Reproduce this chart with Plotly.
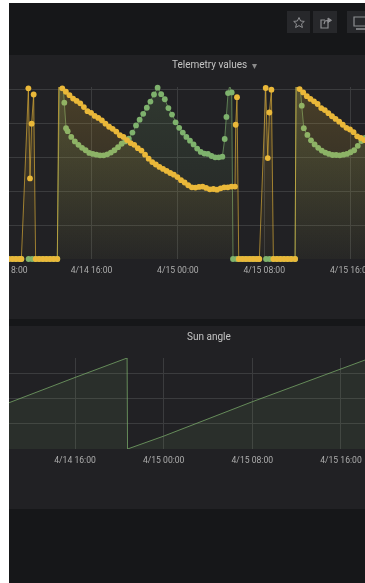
import pandas as pd
import plotly.graph_objects as go

W, H = 365, 583
BASE = pd.Timestamp("2020-04-14 00:00")

# ---------- data: hours since 4/14 00:00 ----------
yellow_pre_hours = [7.67, 8.0, 8.33, 8.67, 9.0, 9.33, 9.5, 10.15, 10.30, 10.45, 10.64, 10.82,
                    11.15, 11.49, 11.82, 12.15, 12.49, 12.83]
yellow_pre_vals = [0, 0, 0, 0, 0, 0, 0, 5.02, 2.37, 3.98, 4.84, 0, 0, 0, 0, 0, 0, 0]

yellow_day1_start = 12.96
yellow_day1_vals = [5.07, 5.02, 4.92, 4.82, 4.72, 4.65, 4.58, 4.47, 4.35, 4.30, 4.21, 4.15, 4.08,
                    3.98, 3.89, 3.83, 3.75, 3.64, 3.59, 3.50, 3.41, 3.36, 3.26, 3.19, 3.07, 2.95,
                    2.85, 2.78, 2.71, 2.65, 2.59, 2.53, 2.48, 2.41, 2.32, 2.25, 2.17, 2.11, 2.10,
                    2.12, 2.13, 2.09, 2.05, 2.06, 2.04, 2.08, 2.11, 2.11, 2.13, 2.13]

yellow_mid_hours = [29.36, 29.48, 29.64, 29.97, 30.3, 30.63, 30.96, 31.29, 31.55, 32.14, 32.33,
                    32.48, 32.67, 32.85, 33.18, 33.51, 33.84, 34.17, 34.5, 34.86]
yellow_mid_vals = [3.95, 4.76, 0, 0, 0, 0, 0, 0, 0, 5.03, 2.97, 4.31, 4.98, 0, 0, 0, 0, 0, 0, 0]

yellow_day2_start = 34.95
yellow_day2_vals = [5.08, 5.0, 4.9, 4.79, 4.71, 4.64, 4.56, 4.44, 4.38, 4.29, 4.2, 4.12, 4.04,
                    3.95, 3.86, 3.81, 3.73, 3.61, 3.56, 3.5, 3.41]

green_pre_hours = [7.67, 8.0, 8.33, 8.67, 9.0, 9.33, 9.5, 9.8, 10.17, 10.5, 10.82, 11.15, 11.49,
                   11.82, 12.15, 12.49, 12.83, 13.02, 13.2, 13.36, 13.48, 13.64]
green_pre_vals = [0, 0, 0, 0, 0, 0, 0, None, 0, 0, 0, 0, 0, 0, 0, 0, 0, 5.12, 5.12, 5.12, 4.6, 3.85]

green_day1_start = 13.79
green_day1_vals = [3.76, 3.59, 3.46, 3.36, 3.27, 3.20, 3.12, 3.09, 3.07, 3.05, 3.05, 3.08, 3.13,
                   3.20, 3.29, 3.39, 3.46, 3.54, 3.72, 3.93, 4.10, 4.27, 4.45, 4.63, 4.84, 5.04,
                   4.85, 4.70, 4.44, 4.25, 4.02, 3.86, 3.72, 3.59, 3.48, 3.37, 3.25, 3.15, 3.10,
                   3.09, 3.03, 2.99, 2.99, 3.01]

green_mid_hours = [28.34, 28.50, 28.65, 28.81, 28.99, 29.11, 29.44, 29.77, 30.1, 30.43, 30.76,
                   31.09, 31.5, 31.8, 32.17, 32.5, 32.85, 33.18, 33.51, 33.84, 34.17, 34.5, 34.86,
                   34.95, 35.14, 35.32, 35.48]
green_mid_vals = [3.53, 4.18, 4.88, 5.10, 4.90, 0, 0, 0, 0, 0, 0, 0, 0, None, 0, 0, 0, 0, 0, 0, 0,
                  0, 0, 5.12, 5.12, 5.12, 4.51]

green_day2_start = 35.67
green_day2_vals = [3.85, 3.65, 3.49, 3.37, 3.27, 3.19, 3.13, 3.09, 3.06, 3.06, 3.05, 3.07, 3.09,
                   3.14, 3.2, 3.33, 3.47, 3.56]

sun_hours = [9.23, 10.04, 16.0, 20.70, 20.74, 24.0, 32.0, 40.0, 42.17]
sun_vals = [1.70, 1.83, 2.83, 3.60, 0.0, 0.51, 1.87, 3.15, 3.52]

tick_hours = [8, 16, 24, 32, 40]
tick_labels = ["4/14 08:00", "4/14 16:00", "4/15 00:00", "4/15 08:00", "4/15 16:00"]
# the upper chart's outer labels run off the page, so the axis would drop them
tick_labels_upper = ["", "4/14 16:00", "4/15 00:00", "4/15 08:00", ""]
SAMPLE_STEP_H = 1 / 3  # telemetry arrives every 20 minutes


def ts(hours):
    return [BASE + pd.to_timedelta(h, unit="h") for h in hours]


def grid(start, vals):
    return [start + i * SAMPLE_STEP_H for i in range(len(vals))]


yellow_x = ts(yellow_pre_hours + grid(yellow_day1_start, yellow_day1_vals) + yellow_mid_hours
              + grid(yellow_day2_start, yellow_day2_vals))
yellow_y = yellow_pre_vals + yellow_day1_vals + yellow_mid_vals + yellow_day2_vals
green_x = ts(green_pre_hours + grid(green_day1_start, green_day1_vals) + green_mid_hours
             + grid(green_day2_start, green_day2_vals))
green_y = green_pre_vals + green_day1_vals + green_mid_vals + green_day2_vals

# ---------- style ----------
PAGE = "#161719"
PANEL = "#212124"
GRID = "#3b3c3e"
TICK = "#adadad"
TITLE = "#c4c4c4"
YEL = "234,184,57"
GRN = "126,178,109"
FONT = "Roboto"


def px(x):
    return x / W


def py(y):
    return 1 - y / H


fig = go.Figure()

fig.add_trace(go.Scatter(
    x=green_x, y=green_y, mode="lines+markers", xaxis="x", yaxis="y", cliponaxis=False,
    line=dict(color=f"rgba({GRN},0.62)", width=1),
    marker=dict(color=f"rgb({GRN})", size=5.8, line=dict(width=0)),
    fill="tozeroy",
    fillgradient=dict(type="vertical", start=0, stop=5,
                      colorscale=[[0, f"rgba({GRN},0.02)"], [1, f"rgba({GRN},0.16)"]]),
))
fig.add_trace(go.Scatter(
    x=yellow_x, y=yellow_y, mode="lines+markers", xaxis="x", yaxis="y", cliponaxis=False,
    line=dict(color=f"rgba({YEL},0.62)", width=1),
    marker=dict(color=f"rgb({YEL})", size=5.8, line=dict(width=0)),
    fill="tozeroy",
    fillgradient=dict(type="vertical", start=0, stop=5,
                      colorscale=[[0, f"rgba({YEL},0.02)"], [1, f"rgba({YEL},0.2)"]]),
))
fig.add_trace(go.Scatter(
    x=ts(sun_hours), y=sun_vals, mode="lines", xaxis="x2", yaxis="y2",
    line=dict(color=f"rgba({GRN},0.72)", width=1),
    fill="tozeroy", fillcolor=f"rgba({GRN},0.1)",
))


def rect(x0, y0, x1, y1, color, layer="below"):
    return dict(type="rect", xref="paper", yref="paper", x0=px(x0), x1=px(x1), y0=py(y1), y1=py(y0),
                fillcolor=color, line=dict(width=0), layer=layer)


def path(points, color, close=False, width=1.0, fill=None):
    d = "M " + " L ".join(f"{px(a):.5f},{py(b):.5f}" for a, b in points)
    if close:
        d += " Z"
    return dict(type="path", xref="paper", yref="paper", path=d, layer="above",
                line=dict(color=color, width=width), fillcolor=fill or "rgba(0,0,0,0)")


ICON = "#8e8f92"
BTN = "#27282b"
shapes = [
    rect(0, 0, W, H, PAGE),
    rect(9, 55, W, 319, PANEL),
    rect(9, 326, W, 509, PANEL),
    rect(287, 11, 310, 33, BTN),
    rect(313, 11, 337, 33, BTN),
    rect(347, 11, W, 33, BTN),
    # star icon
    path([(299, 17.5), (300.6, 21), (304.3, 21.4), (301.5, 23.9), (302.4, 27.5), (299, 25.6),
          (295.6, 27.5), (296.5, 23.9), (293.7, 21.4), (297.4, 21)], ICON, close=True),
    # share icon
    path([(328, 21), (328, 28), (321, 28), (321, 20), (325, 20)], ICON, width=1.2),
    path([(324, 24), (325, 21), (328.5, 20.3)], ICON, width=1.2),
    path([(328, 18), (331.5, 20.3), (328, 22.5)], ICON, close=True, fill=ICON),
    # monitor icon
    path([(354, 17), (W + 5, 17), (W + 5, 26), (354, 26)], ICON, close=True, width=1.2),
    path([(356, 29), (W, 29)], ICON, width=1.6),
    # page edge: the screenshot's white strip sits over the plots
    rect(0, 0, 9, H, "#ffffff", layer="above"),
    rect(0, 0, W, 3, "#ffffff", layer="above"),
]

tick_font = dict(family=FONT, size=8.6, color=TICK)

axis_common = dict(
    showgrid=True, gridcolor=GRID, gridwidth=1, zeroline=False, showline=False,
    ticks="outside", ticklen=3, tickcolor="rgba(0,0,0,0)",
    tickfont=tick_font,
    tickmode="array", tickvals=ts(tick_hours), tickangle=0,
)
yaxis_common = dict(showgrid=True, gridcolor=GRID, gridwidth=1, zeroline=False, showline=False,
                    showticklabels=False, ticks="", tickmode="array")

fig.update_layout(
    width=W, height=H, margin=dict(l=0, r=0, t=0, b=0),
    paper_bgcolor="#ffffff", plot_bgcolor="rgba(0,0,0,0)", showlegend=False,
    shapes=shapes,
    xaxis=dict(domain=[0, 1], anchor="y", range=ts([7.52, 41.34]), ticktext=tick_labels_upper,
               **axis_common),
    yaxis=dict(domain=[py(259), py(87)], anchor="x", range=[0, 5.06], tickvals=[0, 1, 2, 3, 4, 5],
               **yaxis_common),
    xaxis2=dict(domain=[0, 1], anchor="y2", range=ts([9.23, 42.17]), ticktext=tick_labels,
                **axis_common),
    yaxis2=dict(domain=[py(449), py(358)], anchor="x2", range=[0, 3.6], tickvals=[0, 1, 2, 3],
                **yaxis_common),
    annotations=[
        dict(text="Telemetry values", xref="paper", yref="paper", x=px(209.5), y=py(64.5),
             showarrow=False, xanchor="center", yanchor="middle",
             font=dict(family=FONT, size=10, color=TITLE)),
        dict(text="▾", xref="paper", yref="paper", x=px(254), y=py(65),
             showarrow=False, xanchor="center", yanchor="middle",
             font=dict(family=FONT, size=10, color="#8a8a8a")),
        dict(text="Sun angle", xref="paper", yref="paper", x=px(209), y=py(336),
             showarrow=False, xanchor="center", yanchor="middle",
             font=dict(family=FONT, size=10, color=TITLE)),
        dict(text=tick_labels[-1], xref="x", yref="paper", x=ts([tick_hours[-1]])[0], y=py(270),
             showarrow=False, xanchor="center", yanchor="middle", font=tick_font),
        dict(text=tick_labels[0][-4:], xref="paper", yref="paper", x=px(8.5), y=py(270),
             showarrow=False, xanchor="left", yanchor="middle", font=tick_font),
    ],
)

fig.write_html("out.html", config=dict(displayModeBar=False),
               post_script="document.body.style.margin='0';document.body.style.overflow='hidden';"
                           "document.body.style.filter='blur(0.5px)';")
